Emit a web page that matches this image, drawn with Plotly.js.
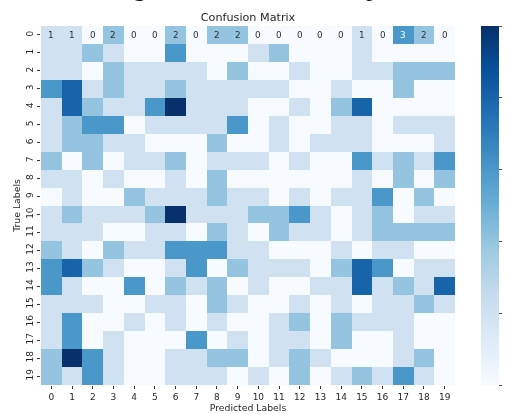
<!DOCTYPE html>
<html>
<head>
<meta charset="utf-8">
<script src="https://cdn.plot.ly/plotly-3.0.1.min.js"></script>
<style>html,body{margin:0;padding:0;background:#fff;overflow:hidden}#c{width:506px;height:414px;filter:blur(0.35px)}</style>
</head>
<body>
<div id="c"></div>
<script>
const labels = [0,1,2,3,4,5,6,7,8,9,10,11,12,13,14,15,16,17,18,19];
const counts = [
 [1,1,0,2,0,0,2,0,2,2,0,0,0,0,0,1,0,3,2,0],
 [1,1,2,1,0,0,3,0,0,0,1,2,0,0,0,1,0,0,0,0],
 [1,1,0,2,1,1,1,1,0,2,0,0,1,0,0,1,1,2,2,2],
 [3,4,1,2,1,1,2,1,1,1,1,1,0,0,1,0,0,2,0,0],
 [1,4,2,1,1,3,5,1,1,1,0,0,1,0,2,4,0,0,0,0],
 [1,2,3,3,0,1,1,1,1,3,0,1,0,0,1,1,0,1,1,1],
 [1,2,2,1,1,0,0,0,2,0,0,1,0,1,1,1,0,0,0,1],
 [2,0,2,0,1,1,2,0,1,1,1,0,1,0,0,3,1,2,1,3],
 [1,1,0,1,0,0,1,0,2,0,0,0,0,0,0,1,0,2,0,2],
 [0,1,0,0,2,1,1,1,2,1,1,0,1,0,1,1,3,0,2,0],
 [1,2,1,1,1,2,5,1,1,1,2,2,3,1,0,1,2,0,1,1],
 [1,1,1,0,0,1,1,0,2,1,0,2,1,1,0,1,2,2,2,2],
 [2,1,0,2,1,1,3,3,3,1,1,0,0,0,1,0,1,1,0,0],
 [3,4,2,1,0,0,1,3,0,2,1,1,1,0,2,4,3,0,1,1],
 [3,1,0,0,3,0,2,1,2,0,1,0,0,1,1,4,1,2,1,4],
 [1,1,1,0,0,1,1,0,2,1,0,0,1,0,1,0,1,1,2,1],
 [1,3,0,0,1,0,1,0,1,0,0,1,2,0,2,1,1,1,0,0],
 [1,3,0,1,0,0,0,3,0,1,0,1,1,0,2,0,0,1,0,0],
 [2,5,3,1,0,0,1,1,2,2,0,1,2,1,0,0,0,1,2,0],
 [2,1,3,1,0,0,1,1,1,0,1,0,2,0,1,2,1,3,1,0]
];
const annotatedRow = counts[0];
const blues = [[0,'#f7fbff'],[0.125,'#deebf7'],[0.25,'#c6dbef'],[0.375,'#9ecae1'],[0.5,'#6baed6'],[0.625,'#4292c6'],[0.75,'#2171b5'],[0.875,'#08519c'],[1,'#08306b']];
const tickFont = {family:'DejaVu Sans', size:9, color:'#262626'};
const axisTitleFont = {family:'DejaVu Sans', size:9.3, color:'#262626'};
const cells = annotatedRow.map((v,i)=>({
  x:i, y:0, xref:'x', yref:'y', text:String(v), showarrow:false,
  font:{family:'DejaVu Sans', size:8.8, color: v>=3 ? '#f7fbff' : '#303030'}
}));
const clipped = [
  {text:'g', x:140},
  {text:'p', x:373}
].map(c=>({
  text:c.text, xref:'paper', yref:'paper',
  x:(c.x-41.3)/414, y:1+(26-3.5)/359, xanchor:'center', yanchor:'bottom',
  showarrow:false, font:{family:'Liberation Serif', size:26, color:'#111'}
}));
Plotly.newPlot('c',[{
  type:'heatmap', z:counts, x:labels, y:labels,
  zmin:0, zmax:5, colorscale:blues, xgap:0, ygap:0,
  colorbar:{
    x:(481.3-41.3)/414, xanchor:'left', thickness:18, thicknessmode:'pixels',
    len:1, lenmode:'fraction', y:0, yanchor:'bottom', ypad:0, xpad:0,
    outlinewidth:0, tickvals:[0,1,2,3,4,5], ticks:'outside', ticklen:3,
    tickcolor:'#555', tickwidth:1, showticklabels:false
  }
}],{
  width:506, height:414, paper_bgcolor:'#fff', plot_bgcolor:'#fff',
  margin:{l:41.3, r:50.7, t:26, b:29.3, pad:0, autoexpand:false},
  title:{text:'Confusion Matrix', font:{family:'DejaVu Sans', size:11.2, color:'#262626'},
         x:0.5, xref:'paper', xanchor:'center', y:1-17/414, yref:'container', yanchor:'middle'},
  xaxis:{tickmode:'array', tickvals:labels, ticktext:labels.map(String), ticks:'outside', ticklen:3,
         tickcolor:'#333', tickfont:tickFont, tickangle:0, showgrid:false, zeroline:false, showline:false,
         title:{text:'Predicted Labels', font:axisTitleFont, standoff:3}},
  yaxis:{autorange:'reversed', tickmode:'array', tickvals:labels, ticktext:labels.map(String), ticks:'outside', ticklen:3,
         tickcolor:'#333', tickfont:tickFont, tickangle:-90, showgrid:false, zeroline:false, showline:false,
         title:{text:'True Labels', font:axisTitleFont, standoff:3}},
  annotations:cells.concat(clipped)
},{displayModeBar:false, staticPlot:true});
</script>
</body>
</html>
